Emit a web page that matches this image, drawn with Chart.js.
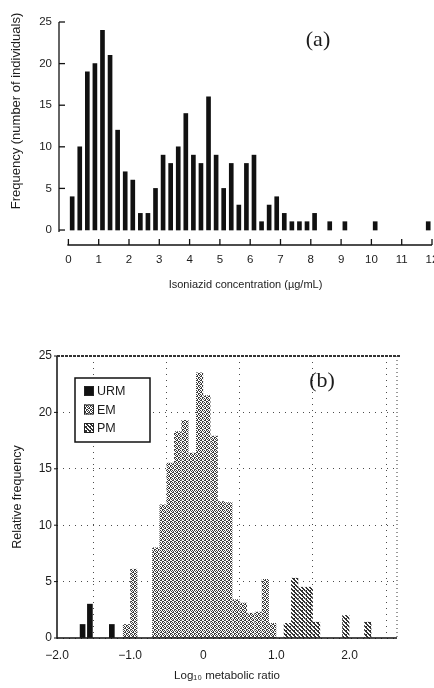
<!DOCTYPE html>
<html><head><meta charset="utf-8">
<script src="https://cdn.jsdelivr.net/npm/chart.js@4"></script>
<style>
html,body{margin:0;padding:0;background:#fff;width:434px;height:688px;overflow:hidden}
#wa{position:absolute;left:0;top:0;width:434px;height:300px}
#wb{position:absolute;left:0;top:330px;width:434px;height:358px}
canvas{display:block}
</style></head><body>
<div id="wa"><canvas id="ca" width="434" height="300"></canvas></div>
<div id="wb"><canvas id="cb" width="434" height="358"></canvas></div>
<script>
// ---------- Panel (a): isoniazid concentration histogram ----------
const concBins = [0.125,0.375,0.625,0.875,1.125,1.375,1.625,1.875,2.125,2.375,2.625,2.875,3.125,3.375,3.625,3.875,4.125,4.375,4.625,4.875,5.125,5.375,5.625,5.875,6.125,6.375,6.625,6.875,7.125,7.375,7.625,7.875,8.125,8.625,9.125,10.125,11.875];
const concFreq = [4,10,19,20,24,21,12,7,6,2,2,5,9,8,10,14,9,8,16,9,5,8,3,8,9,1,3,4,2,1,1,1,2,1,1,1,1];
const concTicks = [0,1,2,3,4,5,6,7,8,9,10,11,12];
const freqTicks = [0,5,10,15,20,25];

// ---------- Panel (b): log10 metabolic ratio ----------
const seriesNames = ['URM','EM','PM'];
const urmLog = [-1.65,-1.55,-1.25];
const urmFreq = [1.2,3.0,1.2];
const emLog = [-1.05,-0.95,-0.65,-0.55,-0.45,-0.35,-0.25,-0.15,-0.05,0.05,0.15,0.25,0.35,0.45,0.55,0.65,0.75,0.85,0.95];
const emFreq = [1.2,6.1,8.0,11.8,15.5,18.3,19.3,16.4,23.5,21.5,17.9,12.1,12.0,3.4,3.1,2.2,2.3,5.2,1.3];
const pmLog = [1.15,1.25,1.35,1.45,1.55,1.95,2.25];
const pmFreq = [1.3,5.3,4.5,4.5,1.4,2.0,1.4];
const ratioTicks = [-2,-1,0,1,2];
const relTicks = [0,5,10,15,20,25];

const TXT = '#1c1c1c';
const SANS = "'Liberation Sans', Arial, sans-serif";
const SERIF = "'Liberation Serif', 'DejaVu Serif', serif";

function pts(xs, ys){ return xs.map((x,i)=>({x:x, y:ys[i]})); }

// ---- chart (a) ----
const axesA = {
  id:'axesA',
  afterDraw(chart){
    const ctx = chart.ctx, xs = chart.scales.x, ys = chart.scales.y, ca = chart.chartArea;
    ctx.save();
    ctx.strokeStyle = '#111'; ctx.lineWidth = 1.3;
    const yl = ca.left;
    ctx.beginPath(); ctx.moveTo(yl, ys.getPixelForValue(freqTicks[freqTicks.length-1]));
    ctx.lineTo(yl, ys.getPixelForValue(freqTicks[0]) + 2); ctx.stroke();
    freqTicks.forEach(v=>{ const p = ys.getPixelForValue(v);
      ctx.beginPath(); ctx.moveTo(yl, p); ctx.lineTo(yl+6, p); ctx.stroke(); });
    const xb = ca.bottom;
    ctx.beginPath(); ctx.moveTo(xs.getPixelForValue(concTicks[0]) - 1, xb);
    ctx.lineTo(xs.getPixelForValue(concTicks[concTicks.length-1]), xb); ctx.stroke();
    concTicks.forEach(v=>{ const p = xs.getPixelForValue(v);
      ctx.beginPath(); ctx.moveTo(p, xb); ctx.lineTo(p, xb-6); ctx.stroke(); });
    ctx.fillStyle = TXT; ctx.font = '13px ' + SANS;
    ctx.textAlign = 'center'; ctx.textBaseline = 'middle';
    ctx.translate(16, 111); ctx.rotate(-Math.PI/2);
    ctx.fillText('Frequency (number of individuals)', 0, 0);
    ctx.restore();
    ctx.save();
    ctx.fillStyle = TXT; ctx.font = '22px ' + SERIF;
    ctx.textAlign = 'center'; ctx.textBaseline = 'middle';
    ctx.fillText('(a)', 318, 40);
    ctx.restore();
  }
};

new Chart(document.getElementById('ca'), {
  type:'bar',
  data:{ datasets:[{ label:'Frequency', data: pts(concBins, concFreq), backgroundColor:'#111',
    barThickness:4, grouped:false, borderWidth:0 }]},
  options:{
    responsive:false, animation:false,
    layout:{padding:{left:0,right:2,top:22,bottom:0}},
    plugins:{legend:{display:false}, tooltip:{enabled:false}},
    scales:{
      x:{ type:'linear', min:-0.31, max:12, offset:false,
        afterBuildTicks(s){ s.ticks = concTicks.map(v=>({value:v})); },
        afterFit(s){ s.height = 55; s.paddingLeft = 0; s.paddingRight = 0; },
        grid:{display:false, drawTicks:false}, border:{display:false},
        ticks:{ font:{family:SANS,size:11.5}, color:TXT, padding:8, maxRotation:0, autoSkip:false,
          callback:(v)=>String(v) },
        title:{display:true, text:'Isoniazid concentration (µg/mL)', font:{family:SANS,size:11}, color:TXT,
          padding:{top:4,bottom:8}}
      },
      y:{ type:'linear', min:-1.8, max:25,
        afterBuildTicks(s){ s.ticks = freqTicks.map(v=>({value:v})); },
        afterFit(s){ s.width = 59; s.paddingTop = 0; s.paddingBottom = 0; },
        grid:{display:false, drawTicks:false}, border:{display:false},
        ticks:{ font:{family:SANS,size:11.5}, color:TXT, padding:7 }
      }
    }
  },
  plugins:[axesA]
});

// ---- chart (b) ----
const cbCtx = document.getElementById('cb').getContext('2d');
function makePattern(dots, ink){
  const c = document.createElement('canvas'); c.width = 4; c.height = 4;
  const g = c.getContext('2d');
  g.fillStyle = '#fff'; g.fillRect(0,0,4,4);
  g.fillStyle = ink;
  dots.forEach(d=>g.fillRect(d[0], d[1], 1, 1));
  return cbCtx.createPattern(c, 'repeat');
}
const emFill = makePattern([[0,0],[2,0],[1,1],[3,1],[0,2],[1,2],[3,3],[2,3]], '#3c3c3c');
const pmFill = makePattern([[0,0],[1,0],[1,1],[2,1],[2,2],[3,2],[3,3],[0,3],[2,0]], '#333');
const fills = ['#111', emFill, pmFill];

const frameB = {
  id:'frameB',
  afterDraw(chart){
    const ctx = chart.ctx, ys = chart.scales.y, ca = chart.chartArea;
    ctx.save();
    ctx.strokeStyle = '#111'; ctx.lineWidth = 1.5;
    ctx.beginPath(); ctx.moveTo(ca.left, ca.top); ctx.lineTo(ca.left, ca.bottom); ctx.lineTo(ca.right, ca.bottom); ctx.stroke();
    ctx.setLineDash([3,1]); ctx.lineWidth = 2; ctx.strokeStyle = '#333';
    ctx.beginPath(); ctx.moveTo(ca.left, ca.top); ctx.lineTo(ca.right+3, ca.top); ctx.stroke();
    ctx.setLineDash([1,3]); ctx.lineWidth = 1.2; ctx.strokeStyle = '#555';
    ctx.beginPath(); ctx.moveTo(ca.right, ca.top); ctx.lineTo(ca.right, ca.bottom); ctx.stroke();
    ctx.setLineDash([]); ctx.lineWidth = 1; ctx.strokeStyle = '#111';
    relTicks.forEach(v=>{ const p = ys.getPixelForValue(v);
      ctx.beginPath(); ctx.moveTo(ca.left-3, p); ctx.lineTo(ca.left, p); ctx.stroke(); });
    const bx = 75, by = 48, bw = 75, bh = 64;
    ctx.lineWidth = 1.5; ctx.strokeStyle = '#111';
    ctx.fillStyle = '#fff'; ctx.fillRect(bx, by, bw, bh);
    ctx.strokeRect(bx, by, bw, bh);
    ctx.font = '12.5px ' + SANS; ctx.textAlign = 'left'; ctx.textBaseline = 'middle';
    chart.data.datasets.forEach((ds, i)=>{
      const cy = by + 13 + i*18.5;
      ctx.fillStyle = ds.backgroundColor; ctx.fillRect(bx+9, cy-5, 10, 10);
      ctx.lineWidth = 1; ctx.strokeStyle = '#222'; ctx.strokeRect(bx+9.5, cy-4.5, 9, 9);
      ctx.fillStyle = TXT; ctx.fillText(ds.label, bx+22, cy+1);
    });
    ctx.font = '22px ' + SERIF; ctx.textAlign = 'center';
    ctx.fillText('(b)', 322, 51);
    ctx.restore();
  }
};

function fmtLog(v){ if (v === 0) return '0'; return (v < 0 ? '\u2212' : '') + Math.abs(v).toFixed(1); }

new Chart(cbCtx, {
  type:'bar',
  data:{ datasets:[
    { label:seriesNames[0], data:pts(urmLog, urmFreq), backgroundColor:fills[0], barThickness:5, grouped:false, borderWidth:0 },
    { label:seriesNames[1], data:pts(emLog, emFreq), backgroundColor:fills[1], barThickness:6.5, grouped:false, borderWidth:0 },
    { label:seriesNames[2], data:pts(pmLog, pmFreq), backgroundColor:fills[2], barThickness:6.5, grouped:false, borderWidth:0 }
  ]},
  options:{
    responsive:false, animation:false,
    layout:{padding:{left:0,right:37,top:26,bottom:0}},
    plugins:{legend:{display:false}, tooltip:{enabled:false}},
    scales:{
      x:{ type:'linear', min:-2, max:2.65, offset:false,
        afterBuildTicks(s){ s.ticks = ratioTicks.map(v=>({value:v})); },
        afterFit(s){ s.height = 50; s.paddingLeft = 0; s.paddingRight = 0; },
        grid:{display:true, drawTicks:false, color:'rgba(0,0,0,0.7)', lineWidth:1},
        border:{display:false, dash:[1,5]},
        ticks:{ font:{family:SANS,size:12}, color:TXT, padding:10, maxRotation:0, autoSkip:false, callback:(v)=>fmtLog(v) },
        title:{display:true, text:'Log\u2081\u2080 metabolic ratio', font:{family:SANS,size:11.5}, color:TXT, padding:{top:2,bottom:5}}
      },
      y:{ type:'linear', min:0, max:25,
        afterBuildTicks(s){ s.ticks = relTicks.map(v=>({value:v})); },
        afterFit(s){ s.width = 57; s.paddingTop = 0; s.paddingBottom = 0; },
        grid:{display:true, drawTicks:false, color:'rgba(0,0,0,0.7)', lineWidth:1},
        border:{display:false, dash:[1,5]},
        ticks:{ font:{family:SANS,size:12}, color:TXT, padding:5 },
        title:{display:true, text:'Relative frequency', font:{family:SANS,size:12.5}, color:TXT, padding:{top:10,bottom:0}}
      }
    }
  },
  plugins:[frameB]
});
</script>
</body></html>
